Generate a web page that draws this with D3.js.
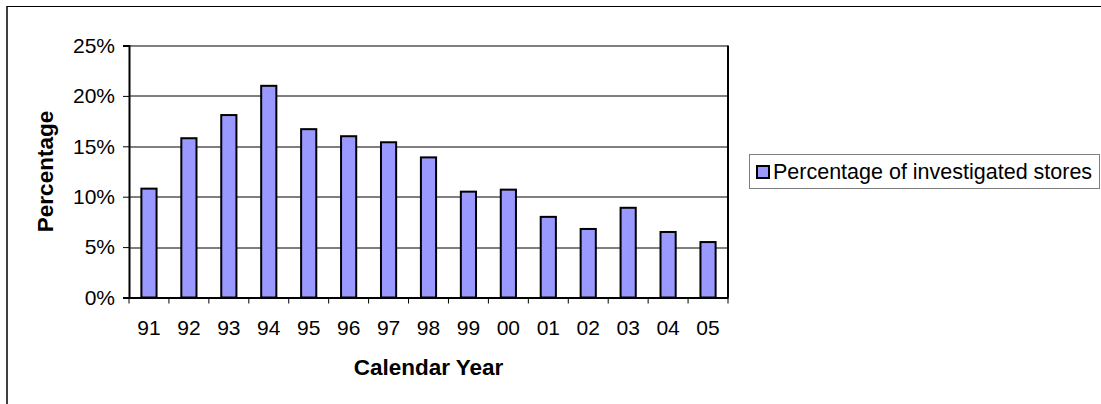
<!DOCTYPE html>
<html>
<head>
<meta charset="utf-8">
<script src="https://d3js.org/d3.v7.min.js"></script>
<style>
  body { margin: 0; background: #fff; }
  svg text { font-family: Arial, 'Liberation Sans', sans-serif; }
</style>
</head>
<body>
<div id="mainDiv"></div>
<script>
'use strict';

// data
var anos = ['91', '92', '93', '94', '95', '96', '97', '98', '99', '00', '01', '02', '03', '04', '05'];
var percentuais = [10.8, 15.8, 18.1, 21.0, 16.7, 16.0, 15.4, 13.9, 10.5, 10.7, 8.0, 6.8, 8.9, 6.5, 5.5];
var yTicks = [0, 5, 10, 15, 20, 25];
var serieNome = 'Percentage of investigated stores';

var myApp = {};

myApp.run = function(p)
{
    var svg = d3.select(p.div).append('svg')
        .attr('width', p.largura)
        .attr('height', p.altura);

    // moldura do grafico (sai da imagem a direita e embaixo)
    svg.append('line')
        .attr('x1', 7).attr('x2', 7).attr('y1', 6).attr('y2', 404)
        .attr('stroke', '#404040').attr('stroke-width', 2);
    svg.append('line')
        .attr('x1', 7).attr('x2', 1101).attr('y1', 6.5).attr('y2', 6.5)
        .attr('stroke', '#000').attr('stroke-width', 1);

    var m = p.margens;
    var w = m.right - m.left;
    var h = m.bottom - m.top;

    var xScale = d3.scaleBand().domain(anos).range([0, w]).padding(0);
    var yScale = d3.scaleLinear().domain([0, 25]).range([h, 0]);

    var chart = svg.append('g')
        .attr('transform', 'translate(' + m.left + ',' + m.top + ')');

    // grade
    chart.selectAll('.grid')
        .data(yTicks.slice(1))
        .enter().append('line')
        .attr('class', 'grid')
        .attr('x1', 0).attr('x2', w)
        .attr('y1', function(d){ return Math.round(yScale(d)) + 0.5; })
        .attr('y2', function(d){ return Math.round(yScale(d)) + 0.5; })
        .attr('stroke', '#000').attr('stroke-width', 1);

    // barras
    var bw = xScale.bandwidth() * 0.38;
    chart.selectAll('.bar')
        .data(percentuais)
        .enter().append('rect')
        .attr('class', 'bar')
        .attr('x', function(d, i){ return xScale(anos[i]) + (xScale.bandwidth() - bw) / 2; })
        .attr('y', function(d){ return yScale(d); })
        .attr('width', bw)
        .attr('height', function(d){ return h - yScale(d); })
        .attr('fill', '#9999FF')
        .attr('stroke', '#000')
        .attr('stroke-width', 2);

    // borda direita da area
    chart.append('line')
        .attr('x1', w).attr('x2', w).attr('y1', 0).attr('y2', h)
        .attr('stroke', '#000').attr('stroke-width', 2);

    // eixo y
    var yAxis = d3.axisLeft(yScale)
        .tickValues(yTicks)
        .tickSize(6)
        .tickPadding(8)
        .tickFormat(function(d){ return d + '%'; });
    var yg = chart.append('g').call(yAxis);
    yg.select('.domain').attr('stroke-width', 2);
    yg.selectAll('.tick line').attr('stroke-width', 1);
    yg.selectAll('text').attr('font-size', 21).attr('fill', '#000')
        .attr('font-family', 'Arial, Liberation Sans, sans-serif');

    // eixo x
    var xAxis = d3.axisBottom(xScale).tickSize(0).tickPadding(23);
    var xg = chart.append('g')
        .attr('transform', 'translate(0,' + h + ')')
        .call(xAxis);
    xg.select('.domain').attr('stroke-width', 2);
    xg.selectAll('text').attr('font-size', 21).attr('fill', '#000')
        .attr('font-family', 'Arial, Liberation Sans, sans-serif');

    // marcas entre categorias
    var limites = anos.map(function(a){ return xScale(a); }).concat([w]);
    xg.selectAll('.sep')
        .data(limites)
        .enter().append('line')
        .attr('class', 'sep')
        .attr('x1', function(d){ return d; }).attr('x2', function(d){ return d; })
        .attr('y1', 0).attr('y2', 6)
        .attr('stroke', '#000').attr('stroke-width', 1);

    // titulos
    svg.append('text')
        .attr('x', m.left + w / 2)
        .attr('y', 375)
        .attr('text-anchor', 'middle')
        .attr('font-size', 22.5)
        .attr('font-weight', 'bold')
        .text('Calendar Year');

    svg.append('text')
        .attr('transform', 'translate(53,' + (m.top + h / 2) + ') rotate(-90)')
        .attr('text-anchor', 'middle')
        .attr('font-size', 22.5)
        .attr('font-weight', 'bold')
        .text('Percentage');

    // legenda
    var leg = svg.append('g');
    leg.append('rect')
        .attr('x', 749.5).attr('y', 154.5)
        .attr('width', 350).attr('height', 34)
        .attr('fill', '#fff')
        .attr('stroke', '#808080').attr('stroke-width', 1);
    leg.append('rect')
        .attr('x', 757).attr('y', 166)
        .attr('width', 12).attr('height', 12)
        .attr('fill', '#9999FF')
        .attr('stroke', '#000').attr('stroke-width', 2);
    leg.append('text')
        .attr('x', 773).attr('y', 179)
        .attr('font-size', 21.5)
        .text(serieNome);
};

var parametros = {
    div: '#mainDiv',
    largura: 1101,
    altura: 404,
    margens: { left: 129, top: 45.5, right: 728, bottom: 297.5 }
};

window.onload = function() {
    myApp.run(parametros);
};
</script>
</body>
</html>
